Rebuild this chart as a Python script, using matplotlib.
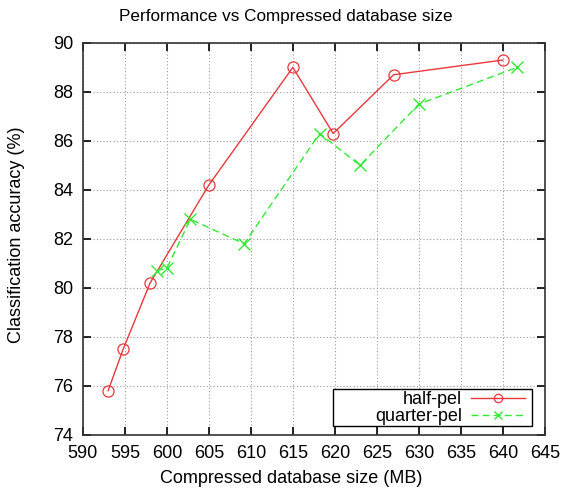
import matplotlib
matplotlib.use("Agg")
import matplotlib.pyplot as plt
from matplotlib.patches import Rectangle

# half-pel
half_size = [593.0, 594.8, 598.0, 605.0, 615.0, 619.8, 627.0, 640.0]
half_acc = [75.8, 77.5, 80.2, 84.2, 89.0, 86.3, 88.7, 89.3]

# quarter-pel
quarter_size = [598.8, 600.0, 602.8, 609.2, 618.2, 623.0, 630.0, 641.7]
quarter_acc = [80.7, 80.8, 82.8, 81.8, 86.3, 85.0, 87.5, 89.0]

xticks = list(range(590, 646, 5))
yticks = list(range(74, 91, 2))

plt.rcParams['font.family'] = ['Liberation Sans', 'DejaVu Sans']

fig = plt.figure(figsize=(5.64, 4.93), dpi=100)
ax = fig.add_axes([0.147, 0.118, 0.819, 0.795])

red = '#e8383d'
green = '#33e833'
ax.plot(half_size, half_acc, color=red, lw=1, marker='o', ms=8,
        mfc='none', mec=red, mew=0.9, label='half-pel')
ax.plot(quarter_size, quarter_acc, color=green, lw=1, ls=(0, (5, 3)),
        marker='x', ms=8, mew=1.0, label='quarter-pel')

ax.set_xlim(590, 645)
ax.set_ylim(74, 90)
ax.set_xticks(xticks)
ax.set_yticks(yticks)
ax.tick_params(direction='in', top=True, right=True, length=6, width=1.2,
               labelsize=13, pad=7)
ax.grid(True, color='#999999', ls=(0, (1, 2)), lw=0.8)
for s in ax.spines.values():
    s.set_linewidth(1.2)
    s.set_color('#333333')

fig.text(0.507, 1 - 17 / 493, 'Performance vs Compressed database size',
         fontsize=12.3, ha='center', va='center')
ax.set_xlabel('Compressed database size (MB)', fontsize=13)
ax.set_ylabel('Classification accuracy (%)', fontsize=13)
ax.xaxis.set_label_coords(0.45, -0.09)
ax.yaxis.set_label_coords(-0.125, 0.51)

# gnuplot style key box
ax.add_patch(Rectangle((0.541, 0.023), 0.431, 0.094, transform=ax.transAxes,
                       fill=True, fc='white', ec='black', lw=1.0, zorder=4))
leg = ax.legend(loc='lower right', bbox_to_anchor=(0.957, 0.025),
                markerfirst=False, fontsize=13, frameon=False,
                handlelength=3.0, handletextpad=0.5, borderpad=0.0,
                labelspacing=0.0, borderaxespad=0)
leg.set_zorder(5)
for h in leg.legend_handles:
    h.set_markersize(6)

fig.savefig('out.png', dpi=100)
